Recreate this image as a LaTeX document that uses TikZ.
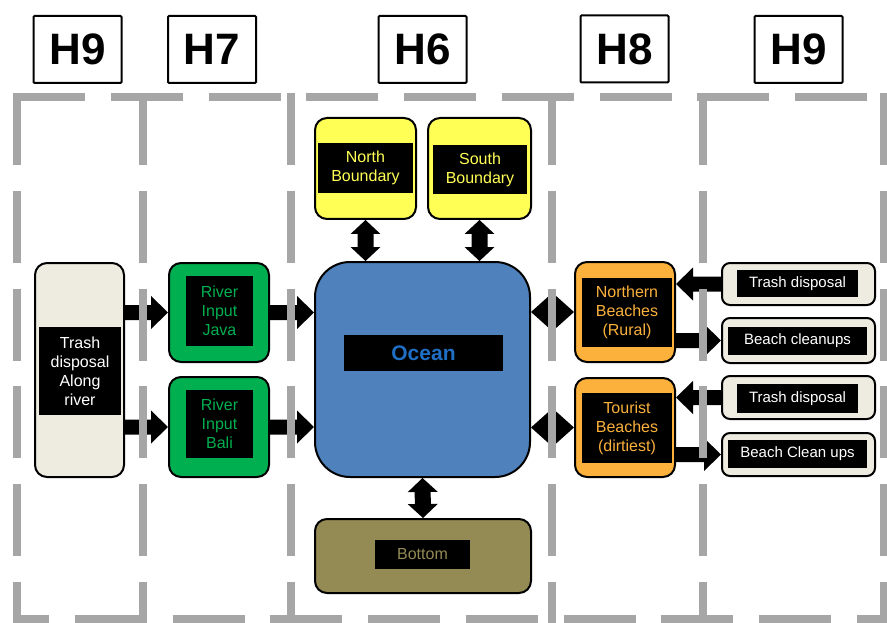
\documentclass[tikz,border=0pt]{standalone}
\usepackage{fontspec}
\setmainfont{Liberation Sans}
\usetikzlibrary{calc}
\definecolor{dashgray}{HTML}{A6A6A6}
\definecolor{oceanblue}{HTML}{4F81BD}
\definecolor{oceantext}{HTML}{1F6FC5}
\definecolor{yel}{HTML}{FFFF55}
\definecolor{grn}{HTML}{00B050}
\definecolor{org}{HTML}{FBB13C}
\definecolor{beige}{HTML}{EEECE1}
\definecolor{olive}{HTML}{948A54}
% single block arrow from #1 to #2 (tip at #2)
\newcommand\blockarrow[2]{%
  \coordinate (bat) at ($(#2)!17pt!(#1)$);
  \fill ($(#1)!7.5pt!90:(#2)$) -- ($(bat)!7.5pt!-90:(#1)$) -- ($(bat)!16.5pt!-90:(#1)$) -- (#2)
     -- ($(bat)!16.5pt!90:(#1)$) -- ($(bat)!7.5pt!90:(#1)$) -- ($(#1)!7.5pt!-90:(#2)$) -- cycle;}
% double block arrow between #1 and #2; #3 head length, #4 head half width, #5 shaft half width
\newcommand\dblarrow[5]{%
  \coordinate (dta) at ($(#1)!#3!(#2)$);
  \coordinate (dtb) at ($(#2)!#3!(#1)$);
  \fill (#1) -- ($(dta)!#4!90:(#2)$) -- ($(dta)!#5!90:(#2)$) -- ($(dtb)!#5!-90:(#1)$)
     -- ($(dtb)!#4!-90:(#1)$) -- (#2) -- ($(dtb)!#4!90:(#1)$) -- ($(dtb)!#5!90:(#1)$)
     -- ($(dta)!#5!-90:(#2)$) -- ($(dta)!#4!-90:(#2)$) -- cycle;}
\begin{document}
\begin{tikzpicture}[x=1pt,y=-1pt,
  hdr/.style={draw=black, line width=2pt, fill=white, rounded corners=1pt,
    minimum width=88pt, minimum height=67pt, inner sep=0pt,
    font=\fontsize{44}{50}\selectfont\bfseries},
  box/.style={draw=black, line width=2pt, rounded corners=12pt, inner sep=0pt},
  smallbox/.style={box, rounded corners=8pt, fill=beige, minimum width=153pt},
  lbl/.style={fill=black, inner sep=0pt, align=center, font=\fontsize{16}{19}\selectfont},
  slbl/.style={fill=black, inner sep=0pt, align=center, text=white, font=\fontsize{15}{18}\selectfont},
  dashline/.style={draw=dashgray, line width=7.5pt, dash pattern=on 72pt off 25.75pt}
]
\clip (0,0) rectangle (887,623);
\fill[white] (0,0) rectangle (887,623);

% headers
\node[hdr] (h9a) at (77.5,49.5) {H9};
\node[hdr] (h7) at (212,49.5) {H7};
\node[hdr] (h6) at (422.5,49.5) {H6};
\node[hdr] (h8) at (624.5,49) {H8};
\node[hdr] (h9b) at (798.5,49.5) {H9};

% boxes
\node[box, fill=yel, minimum width=101pt, minimum height=101pt] (north) at (365.5,168.5) {};
\node[lbl, text=yel, minimum width=95pt, minimum height=50pt] (northl) at (365.5,168) {North\\Boundary};
\node[box, fill=yel, minimum width=103pt, minimum height=101pt] (south) at (479.5,168.5) {};
\node[lbl, text=yel, minimum width=94pt, minimum height=49pt] (southl) at (480,169.5) {South\\Boundary};

\node[box, rounded corners=35pt, fill=oceanblue, minimum width=215pt, minimum height=215pt] (ocean) at (422.5,369.5) {};
\node[lbl, text=oceantext, minimum width=159pt, minimum height=36pt, font=\fontsize{21}{24}\selectfont\bfseries] (oceanl) at (423.5,353) {Ocean};

\node[box, fill=olive, minimum width=216pt, minimum height=74pt] (bottom) at (423,556) {};
\node[lbl, text=olive, minimum width=95pt, minimum height=29pt] (bottoml) at (422.5,554.5) {Bottom};

\node[box, fill=beige, minimum width=89pt, minimum height=214pt] (trashL) at (79.5,370) {};
\node[lbl, text=white, minimum width=82pt, minimum height=88pt] (trashLl) at (80,371) {Trash\\disposal\\Along\\river};

\node[box, fill=grn, minimum width=100pt, minimum height=99pt] (java) at (219,312.5) {};
\node[lbl, text=grn, minimum width=67pt, minimum height=70pt] (javal) at (219.5,311) {River\\Input\\Java};
\node[box, fill=grn, minimum width=100pt, minimum height=100pt] (bali) at (219,427) {};
\node[lbl, text=grn, minimum width=67pt, minimum height=68pt] (balil) at (219.5,424) {River\\Input\\Bali};

\node[box, fill=org, minimum width=100pt, minimum height=100pt] (northern) at (625,312) {};
\node[lbl, text=org, minimum width=90pt, minimum height=69pt] (northernl) at (627,312.5) {Northern\\Beaches\\(Rural)};
\node[box, fill=org, minimum width=100pt, minimum height=99pt] (tourist) at (625,427.5) {};
\node[lbl, text=org, minimum width=90pt, minimum height=70pt] (touristl) at (627,428) {Tourist\\Beaches\\(dirtiest)};

\node[smallbox, minimum height=42pt] (trash1) at (798.5,284) {};
\node[slbl, minimum width=121pt, minimum height=27pt] (trash1l) at (797.5,283.5) {Trash disposal};
\node[smallbox, minimum height=45pt] (clean1) at (798.5,340.5) {};
\node[slbl, minimum width=139pt, minimum height=28pt] (clean1l) at (797.5,341) {Beach cleanups};
\node[smallbox, minimum height=43pt] (trash2) at (798.5,397.5) {};
\node[slbl, minimum width=121pt, minimum height=29pt] (trash2l) at (797.5,398.5) {Trash disposal};
\node[smallbox, minimum height=43pt] (clean2) at (798.5,454.5) {};
\node[slbl, minimum width=139pt, minimum height=28pt] (clean2l) at (797.5,454) {Beach Clean ups};

% connectors
\coordinate (a1) at (trashL.east |- java.west);
\blockarrow{a1}{java.west}
\coordinate (a2) at (trashL.east |- bali.west);
\blockarrow{a2}{bali.west}
\coordinate (a3) at (ocean.west |- java.east);
\blockarrow{java.east}{a3}
\coordinate (a4) at (ocean.west |- bali.east);
\blockarrow{bali.east}{a4}
\coordinate (a5) at (north.south |- ocean.north);
\dblarrow{north.south}{a5}{14pt}{15pt}{8pt}
\coordinate (a6) at (south.south |- ocean.north);
\dblarrow{south.south}{a6}{14pt}{15pt}{8pt}
\dblarrow{ocean.south}{bottom.north}{14pt}{15pt}{8pt}
\coordinate (a8) at (ocean.east |- northern.west);
\dblarrow{a8}{northern.west}{19pt}{17pt}{7pt}
\coordinate (a9) at (ocean.east |- tourist.west);
\dblarrow{a9}{tourist.west}{19pt}{17pt}{7pt}
\coordinate (a10) at (northern.east |- trash1.west);
\blockarrow{trash1.west}{a10}
\coordinate (a11) at (northern.east |- clean1.west);
\blockarrow{a11}{clean1.west}
\coordinate (a12) at (tourist.east |- trash2.west);
\blockarrow{trash2.west}{a12}
\coordinate (a13) at (tourist.east |- clean2.west);
\blockarrow{a13}{clean2.west}

% dashed column frames
\draw[dashline] (13,97) -- (887,97);
\draw[dashline, dash phase=36pt] (13,619) -- (887,619);
\foreach \xx in {17,143,291,552,703,884} {
  \draw[dashline] (\xx,93) -- (\xx,623);
}
\end{tikzpicture}
\end{document}
